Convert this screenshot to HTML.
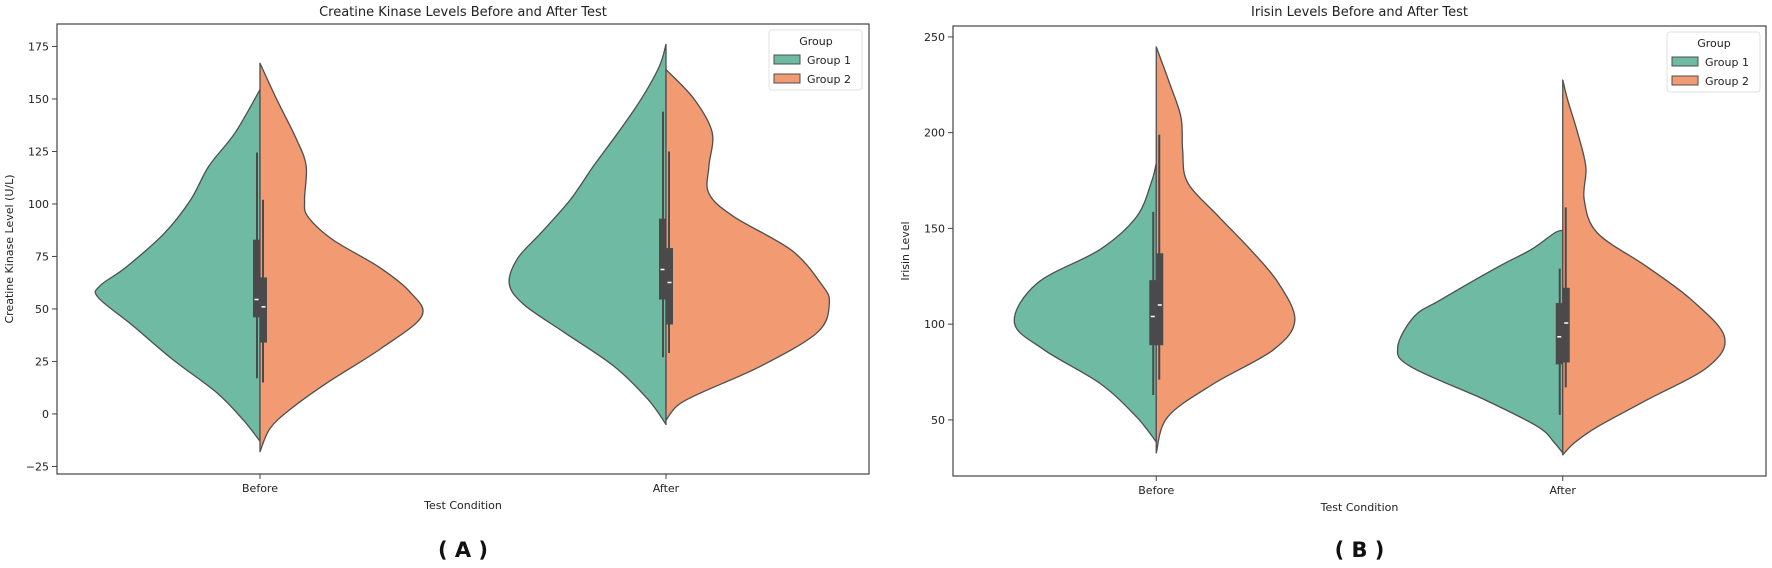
<!DOCTYPE html>
<html><head><meta charset="utf-8"><style>
body{margin:0;background:#fff;}
svg{display:block;font-family:"DejaVu Sans","Liberation Sans",sans-serif;}
</style></head><body>
<svg id="fig" width="1772" height="568" viewBox="0 0 1772 568"></svg>
<script>
// ---- data ----
const categories = ["Before","After"];
const groups = ["Group 1","Group 2"];
const ckTicks = [-25,0,25,50,75,100,125,150,175];
const irTicks = [50,100,150,200,250];
// density profiles: values and relative half-widths (0..1)
const ckBeforeG1V = [154.5,134,118,102,86,70,61,55.4,42,26,10,-3,-13];
const ckBeforeG1D = [0,0.15,0.31,0.42,0.58,0.81,0.97,0.98,0.77,0.53,0.26,0.10,0];
const ckBeforeG2V = [167,150,131,118,102,94,83,70,58,46.5,31,15,2,-7,-18];
const ckBeforeG2D = [0,0.10,0.22,0.28,0.27,0.29,0.44,0.72,0.91,0.98,0.73,0.41,0.18,0.06,0];
const ckAfterG1V = [176,165.6,150,134,118,102,86,74,62,52,39,23,7,-5];
const ckAfterG1D = [0,0.04,0.15,0.29,0.44,0.58,0.76,0.90,0.95,0.86,0.62,0.32,0.11,0];
const ckAfterG2V = [164,150,134,118,105,94,78,62,53,39,23,10,4,-3];
const ckAfterG2D = [0,0.17,0.28,0.26,0.26,0.41,0.76,0.94,0.99,0.92,0.58,0.21,0.07,0];
const irBeforeG1V = [184,174,156,139,121.5,101,86.6,69,51.6,38.5];
const irBeforeG1D = [0,0.03,0.12,0.34,0.72,0.86,0.68,0.34,0.12,0];
const irBeforeG2V = [244.8,226,208,191,174,156,139,121.5,102,86.6,69,51.6,32.8];
const irBeforeG2D = [0,0.08,0.15,0.16,0.19,0.38,0.57,0.74,0.84,0.71,0.35,0.07,0];
const irAfterG1V = [149,147.6,139,130,112.7,104,88,77.7,60.4,46.4,38,32.7];
const irAfterG1D = [0,0.05,0.19,0.39,0.74,0.90,1.0,0.92,0.47,0.15,0.05,0];
const irAfterG2V = [227.5,217,200,182,165,147.6,130,112.7,93.4,77.7,60.4,46.4,38,31.7];
const irAfterG2D = [0,0.03,0.09,0.14,0.13,0.21,0.51,0.78,0.98,0.88,0.51,0.21,0.07,0];
// box stats: [whiskerLow, q1, median, q3, whiskerHigh]
const ckBoxBeforeG1 = [17,46,54.5,83,124.5];
const ckBoxBeforeG2 = [15,34,51,65,102];
const ckBoxAfterG1 = [27,54.5,68.8,93,144];
const ckBoxAfterG2 = [29,42.6,62.6,79,125];
const irBoxBeforeG1 = [63,89,104,123,158.6];
const irBoxBeforeG2 = [71,89,110,137,199];
const irBoxAfterG1 = [52.6,79,93.4,111,129];
const irBoxAfterG2 = [67,80,100.6,119,161];

const NS="http://www.w3.org/2000/svg";
const svg=document.getElementById('fig');
const GREEN="#6fbaa2", ORANGE="#f29a72", EDGE="#4e4e4e", BOX="#4a4a4a";
function mk(tag,attrs,parent){const e=document.createElementNS(NS,tag);for(const k in attrs)e.setAttribute(k,attrs[k]);(parent||svg).appendChild(e);return e;}
function smooth(pts){let d="M"+pts[0][0]+","+pts[0][1];for(let i=0;i<pts.length-1;i++){const p0=pts[i-1]||pts[i],p1=pts[i],p2=pts[i+1],p3=pts[i+2]||p2;const c1=[p1[0]+(p2[0]-p0[0])/6,p1[1]+(p2[1]-p0[1])/6],c2=[p2[0]-(p3[0]-p1[0])/6,p2[1]-(p3[1]-p1[1])/6];d+=" C"+c1[0]+","+c1[1]+" "+c2[0]+","+c2[1]+" "+p2[0]+","+p2[1];}return d;}

function chart(cfg){
  const g=mk('g',{});
  
  
  const L=cfg.left,R=cfg.right,T=cfg.top,B=cfg.bottom;
  const step=(R-L)/categories.length;
  const xS=i=>L+(i+0.5)*step;
  const yS=v=>B-(v-cfg.ymin)/(cfg.ymax-cfg.ymin)*(B-T);
  const maxW=cfg.maxW;
  // violins
  cfg.violins.forEach((vl,ci)=>{
    vl.forEach((half,gi)=>{
      const cx=xS(ci),sign=gi===0?-1:1;
      const pts=half.v.map((v,k)=>[cx+sign*half.d[k]*maxW,yS(v)]);
      let d=smooth(pts)+" L"+cx+","+yS(half.v[half.v.length-1])+" L"+cx+","+yS(half.v[0])+" Z";
      const p=mk('path',{d:d,fill:gi===0?GREEN:ORANGE,stroke:EDGE,'stroke-width':1.3,'stroke-linejoin':'round'},g);
      
      
    });
    cfg.boxes[ci].forEach((bx,gi)=>{
      const cx=xS(ci),sign=gi===0?-1:1;
      const bg=mk('g',{},g);
      
      
      mk('line',{x1:cx+sign*3,x2:cx+sign*3,y1:yS(bx[0]),y2:yS(bx[4]),stroke:BOX,'stroke-width':2},bg);
      mk('rect',{x:gi===0?cx-7:cx,y:yS(bx[3]),width:7,height:yS(bx[1])-yS(bx[3]),fill:BOX},bg);
      mk('line',{x1:cx+sign*1.5,x2:cx+sign*5.5,y1:yS(bx[2]),y2:yS(bx[2]),stroke:'#fff','stroke-width':1.5},bg);
    });
  });
  // frame
  const fr=mk('rect',{x:L,y:T,width:R-L,height:B-T,fill:'none',stroke:'#444','stroke-width':1.2},g);
  
  
  // y ticks
  cfg.ticks.forEach(t=>{
    const y=yS(t);
    mk('line',{x1:L-5,x2:L,y1:y,y2:y,stroke:'#444','stroke-width':1},g);
    const tx=mk('text',{x:L-8,y:y+4,'text-anchor':'end','font-size':11,fill:'#222'},g);
    tx.textContent=t<0?"\u2212"+(-t):t;
    
    
  });
  categories.forEach((c,i)=>{
    const x=xS(i);
    mk('line',{x1:x,x2:x,y1:B,y2:B+5,stroke:'#444','stroke-width':1},g);
    const tx=mk('text',{x:x,y:B+18,'text-anchor':'middle','font-size':11,fill:'#222'},g);
    tx.textContent=c;
    
    
  });
  const ti=mk('text',{x:(L+R)/2,y:16,'text-anchor':'middle','font-size':13,fill:'#222'},g);
  ti.textContent=cfg.title;
  
  
  const xl=mk('text',{x:(L+R)/2,y:B+35,'text-anchor':'middle','font-size':11,fill:'#222'},g);
  xl.textContent="Test Condition";
  
  
  const yl=mk('text',{x:cfg.ylx,y:(T+B)/2,'text-anchor':'middle','font-size':11,fill:'#222',transform:'rotate(-90 '+cfg.ylx+' '+(T+B)/2+')'},g);
  yl.textContent=cfg.ylabel;
  
  
  // legend
  const lg=mk('g',{},g);
  
  
  const lx=cfg.legX,ly=T+6;
  mk('rect',{x:lx,y:ly,width:93,height:60,rx:3,fill:'#fff',stroke:'#e2e2e2'},lg);
  const lt=mk('text',{x:lx+47,y:ly+15,'text-anchor':'middle','font-size':11,fill:'#222'},lg);
  lt.textContent="Group";
  groups.forEach((gn,k)=>{
    const e=mk('g',{},lg);
    
    
    mk('rect',{x:lx+5,y:ly+25+k*19,width:26,height:9,fill:k===0?GREEN:ORANGE,stroke:EDGE,'stroke-width':1},e);
    const t=mk('text',{x:lx+38,y:ly+34+k*19,'font-size':11,fill:'#222'},e);
    t.textContent=gn;
  });
  const pl=mk('text',{x:(L+R)/2,y:557,'text-anchor':'middle','font-size':21,'font-weight':'bold',fill:'#111'},g);
  pl.textContent=cfg.panel;
  
  
}

chart({name:'creatine-kinase-chart',left:57,right:869,top:24,bottom:474,ymin:-28.6,ymax:185.7,maxW:165,
  ticks:ckTicks,title:"Creatine Kinase Levels Before and After Test",ylabel:"Creatine Kinase Level (U/L)",ylx:13,legX:769,panel:"( A )",
  violins:[[{v:ckBeforeG1V,d:ckBeforeG1D},{v:ckBeforeG2V,d:ckBeforeG2D}],[{v:ckAfterG1V,d:ckAfterG1D},{v:ckAfterG2V,d:ckAfterG2D}]],
  boxes:[[ckBoxBeforeG1,ckBoxBeforeG2],[ckBoxAfterG1,ckBoxAfterG2]]});
chart({name:'irisin-chart',left:953,right:1766,top:26,bottom:476,ymin:20.7,ymax:255.7,maxW:165,
  ticks:irTicks,title:"Irisin Levels Before and After Test",ylabel:"Irisin Level",ylx:909,legX:1667,panel:"( B )",
  violins:[[{v:irBeforeG1V,d:irBeforeG1D},{v:irBeforeG2V,d:irBeforeG2D}],[{v:irAfterG1V,d:irAfterG1D},{v:irAfterG2V,d:irAfterG2D}]],
  boxes:[[irBoxBeforeG1,irBoxBeforeG2],[irBoxAfterG1,irBoxAfterG2]]});
</script>
</body></html>
